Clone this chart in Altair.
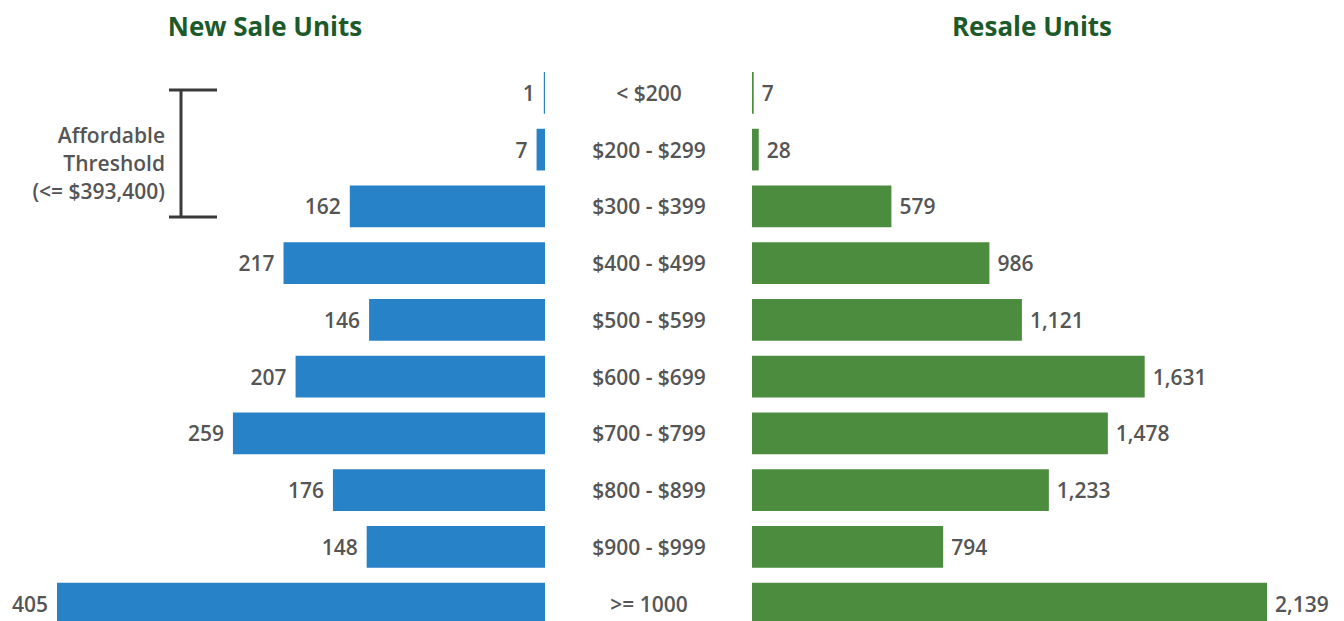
import altair as alt
import pandas as pd

price_ranges = ["< $200", "$200 - $299", "$300 - $399", "$400 - $499", "$500 - $599",
                "$600 - $699", "$700 - $799", "$800 - $899", "$900 - $999", ">= 1000"]
new_sale_units = [1, 7, 162, 217, 146, 207, 259, 176, 148, 405]
resale_units = [7, 28, 579, 986, 1121, 1631, 1478, 1233, 794, 2139]
panel_titles = ["New Sale Units", "Resale Units"]
threshold_lines = ["Affordable", "Threshold", "(<= $393,400)"]

df = pd.DataFrame({"range": price_ranges, "new": new_sale_units, "resale": resale_units})

FONT = "Open Sans"
BLUE = "#2882c8"
GREEN = "#4b8c3f"
GRAY = "#555555"
TITLE = "#1d5a2b"
BRACKET = "#3a3a3a"

y = alt.Y("range:N", sort=price_ranges, axis=None,
          scale=alt.Scale(range=[56.5, 624], paddingInner=0.265, paddingOuter=0.1325))

base = alt.Chart(df)

xl = alt.X("new:Q", axis=None,
           scale=alt.Scale(domain=[0, 405], range=[537, 49], nice=False, zero=True))
xr = alt.X("resale:Q", axis=None,
           scale=alt.Scale(domain=[0, 2139], range=[744, 1259], nice=False, zero=True))

txt = dict(font=FONT, fontSize=21, fontWeight=600, color=GRAY, baseline="middle", dy=2)

left_bars = base.mark_bar(color=BLUE).encode(x=xl, y=y)
left_labels = base.mark_text(align="right", dx=-9, **txt).encode(
    x=xl, y=y, text=alt.Text("new:Q", format=","))
right_bars = base.mark_bar(color=GREEN).encode(x=xr, y=y)
right_labels = base.mark_text(align="left", dx=8, **txt).encode(
    x=xr, y=y, text=alt.Text("resale:Q", format=","))
mid_labels = base.mark_text(align="center", **txt).encode(
    x=alt.value(641), y=y, text="range:N")

one = pd.DataFrame({"a": [0]})
title_style = dict(font=FONT, fontSize=26, fontWeight="bold", color=TITLE,
                   align="center", baseline="alphabetic")
title_left = alt.Chart(pd.DataFrame({"t": [panel_titles[0]]})).mark_text(**title_style).encode(
    x=alt.value(257), y=alt.value(28), text="t:N")
title_right = alt.Chart(pd.DataFrame({"t": [panel_titles[1]]})).mark_text(**title_style).encode(
    x=alt.value(1024), y=alt.value(28), text="t:N")

bracket_v = alt.Chart(one).mark_rule(color=BRACKET, strokeWidth=3).encode(
    x=alt.value(173), y=alt.value(82), y2=alt.value(209))
bracket_top = alt.Chart(one).mark_rule(color=BRACKET, strokeWidth=3).encode(
    x=alt.value(161), x2=alt.value(209), y=alt.value(82))
bracket_bot = alt.Chart(one).mark_rule(color=BRACKET, strokeWidth=3).encode(
    x=alt.value(161), x2=alt.value(209), y=alt.value(209))
threshold_text = alt.Chart(one).mark_text(
    font=FONT, fontSize=21, fontWeight=600, color=GRAY, align="right",
    baseline="alphabetic", lineHeight=28).encode(
    x=alt.value(157), y=alt.value(135), text=alt.value(threshold_lines))

chart = alt.layer(
    left_bars, left_labels, right_bars, right_labels, mid_labels,
    title_left, title_right, bracket_v, bracket_top, bracket_bot, threshold_text
).resolve_scale(x="independent").properties(
    width=1328, height=613, padding=0,
    autosize=alt.AutoSizeParams(type="none"),
    background="white"
).configure_view(stroke=None)

chart.save("out.html", embed_options={"renderer": "svg", "actions": False})
